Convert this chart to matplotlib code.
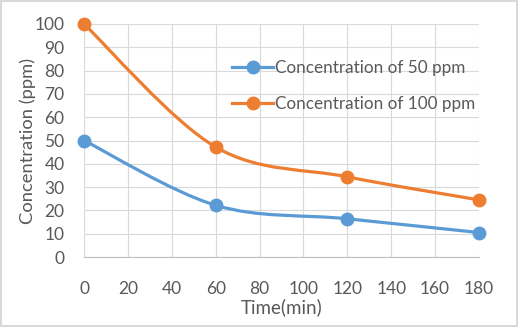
import numpy as np
import matplotlib.pyplot as plt
from matplotlib.path import Path
from matplotlib.patches import PathPatch, Rectangle

plt.rcParams['font.family'] = ['Lato', 'DejaVu Sans']

aika = [0, 60, 120, 180]
c50 = [50, 22.2, 16.4, 10.5]
c100 = [100, 47.2, 34.4, 24.5]
xticks = list(range(0, 181, 20))
yticks = list(range(0, 101, 10))

harmaa = '#595959'
sininen = '#5B9BD5'
oranssi = '#ED7D31'


def pehmea_polku(x, y):
    # Bezier-kaari pisteiden kautta (Catmull-Rom kontrollipisteet)
    p = np.column_stack([x, y]).astype(float)
    verts = [p[0]]
    codes = [Path.MOVETO]
    for i in range(len(p) - 1):
        edel = p[i - 1] if i > 0 else p[i]
        seur = p[i + 2] if i + 2 < len(p) else p[i + 1]
        c1 = p[i] + (p[i + 1] - edel) / 6
        c2 = p[i + 1] - (seur - p[i]) / 6
        verts += [c1, c2, p[i + 1]]
        codes += [Path.CURVE4] * 3
    return Path(verts, codes)


fig = plt.figure(figsize=(5.18, 3.27), dpi=100)
ax = fig.add_axes([84 / 518, 1 - 257 / 327, (479 - 84) / 518, (257 - 24) / 327])

fig.patches.append(Rectangle((0.002, 0.003), 0.996, 0.994, transform=fig.transFigure,
                             fill=False, edgecolor='#d9d9d9', linewidth=1.5))

for y, vari in [(c50, sininen), (c100, oranssi)]:
    ax.add_patch(PathPatch(pehmea_polku(aika, y), facecolor='none', edgecolor=vari,
                           linewidth=2.3, capstyle='round', zorder=3))
    ax.plot(aika, y, 'o', color=vari, markersize=9, zorder=4, clip_on=False)

# legendin viivat
kahv = [plt.Line2D([], [], color=sininen, marker='o', markersize=9, linewidth=2.3),
        plt.Line2D([], [], color=oranssi, marker='o', markersize=9, linewidth=2.3)]
ax.legend(kahv, ['Concentration of 50 ppm', 'Concentration of 100 ppm'],
          loc='upper left', bbox_to_anchor=(0.345, 0.895), frameon=False,
          fontsize=12.3, labelcolor=harmaa, handlelength=2.4, handletextpad=0.1,
          labelspacing=1.15, borderpad=0.2)

ax.set_xlim(0, 180)
ax.set_ylim(0, 100)
ax.set_xticks(xticks)
ax.set_yticks(yticks)
ax.grid(True, color='#d9d9d9', linewidth=0.8)
ax.set_axisbelow(True)
for s in ['top', 'right', 'left']:
    ax.spines[s].set_visible(False)
ax.spines['bottom'].set_color('#bfbfbf')
ax.tick_params(length=0, colors=harmaa, labelsize=12.5)
ax.tick_params(axis='x', pad=17)
ax.tick_params(axis='y', pad=14)
ax.set_xlabel('Time(min)', color=harmaa, fontsize=13.5, labelpad=1)
ax.set_ylabel('Concentration (ppm)', color=harmaa, fontsize=13.2, labelpad=-1)

fig.savefig('out.png', dpi=100)
